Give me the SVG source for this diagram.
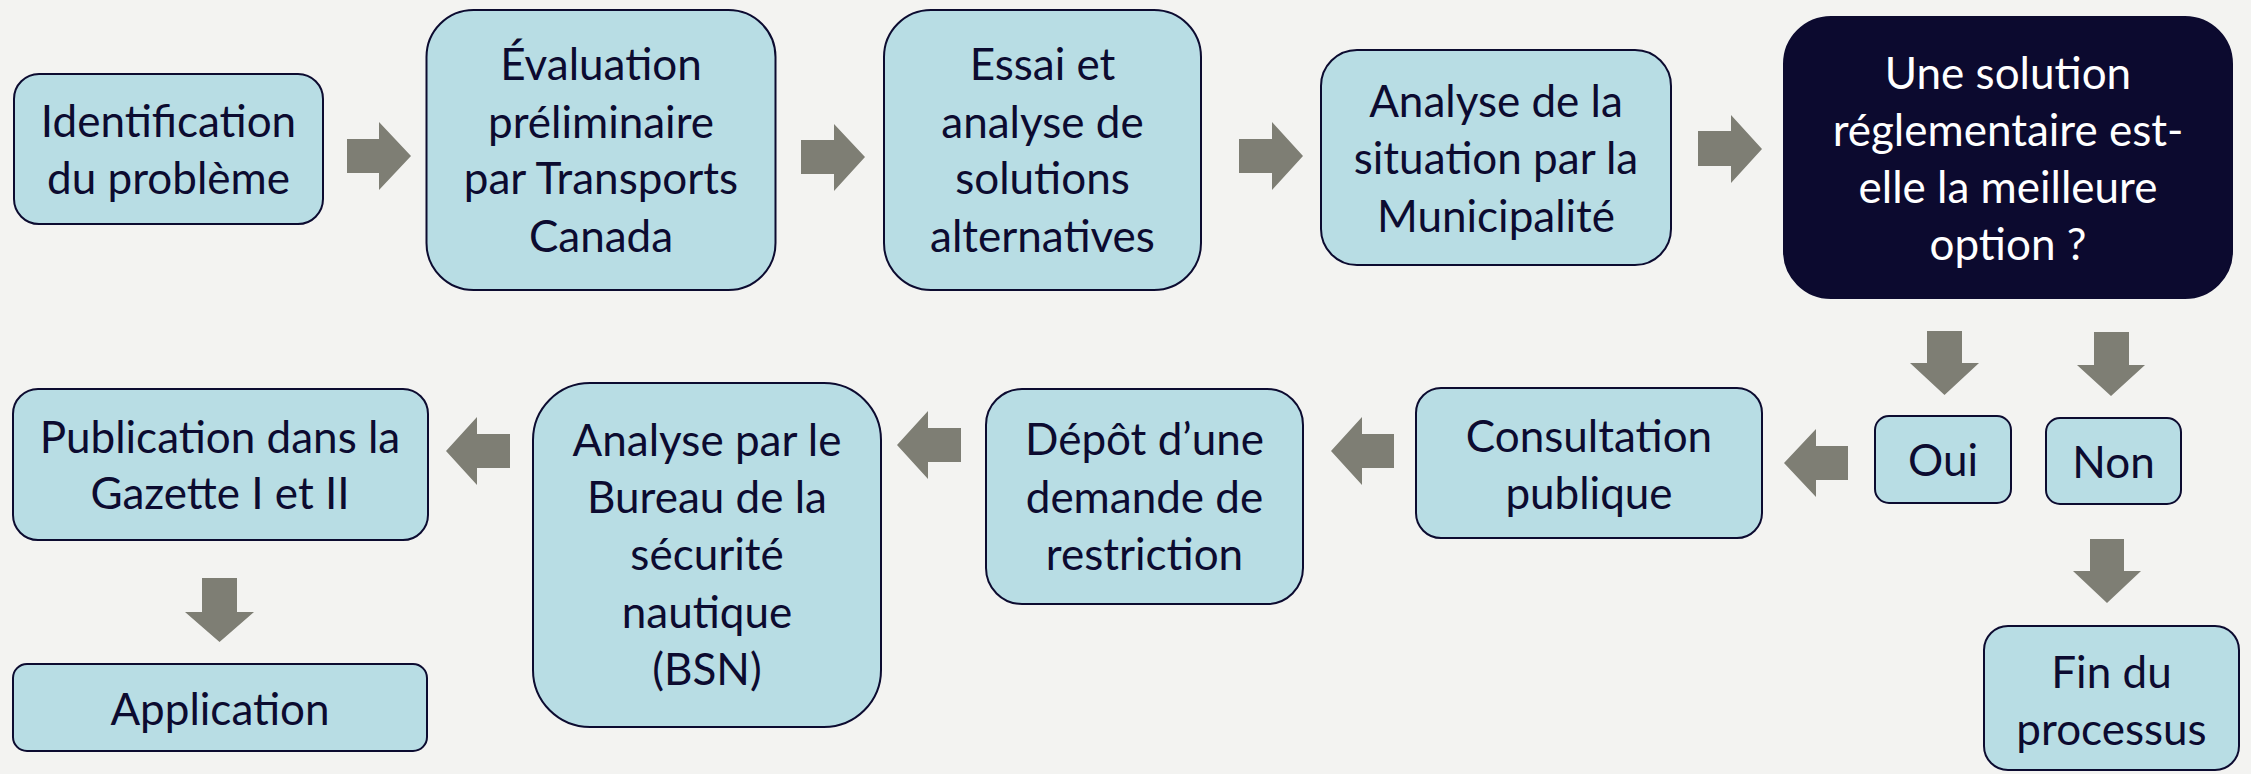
<svg xmlns="http://www.w3.org/2000/svg" width="2251" height="774" viewBox="0 0 2251 774">
<style>
.box{fill:#b8dde4;stroke:#0c0b30;stroke-width:2}
.dark{fill:#0c0a2f;stroke:#0c0a2f;stroke-width:2}
.t{font-family:Lato,"Open Sans","Liberation Sans",sans-serif;font-size:44px;fill:#0c0b30;text-anchor:middle}
.w{fill:#ffffff}
.arr{fill:#7e7e74}
</style>
<rect width="2251" height="774" fill="#f3f3f1"/>
<g id="connectors">
<polygon class="arr" points="347,139 379,139 379,122 411,156 379,190 379,173 347,173"/>
<polygon class="arr" points="801,140 834,140 834,124 865,157 834,191 834,174 801,174"/>
<polygon class="arr" points="1239,139 1272,139 1272,122 1303,156 1272,190 1272,173 1239,173"/>
<polygon class="arr" points="1698,131 1731,131 1731,115 1762,149 1731,183 1731,166 1698,166"/>
<polygon class="arr" points="510,434 477,434 477,417 446,451 477,485 477,468 510,468"/>
<polygon class="arr" points="961,428 928,428 928,411 897,445 928,479 928,462 961,462"/>
<polygon class="arr" points="1394,434 1362,434 1362,417 1331,451 1362,485 1362,468 1394,468"/>
<polygon class="arr" points="1848,446 1816,446 1816,429 1784,463 1816,497 1816,480 1848,480"/>
<polygon class="arr" points="1927,331 1962,331 1962,363 1979,363 1944.5,395 1910,363 1927,363"/>
<polygon class="arr" points="2094,332 2129,332 2129,365 2145,365 2111,396 2077,365 2094,365"/>
<polygon class="arr" points="2090,539 2124,539 2124,571 2141,571 2107,603 2073,571 2090,571"/>
<polygon class="arr" points="202,578 237,578 237,612 254,612 219.5,642 185,612 202,612"/>
</g>
<g id="n1"><rect class="box" x="14" y="74" width="309" height="150" rx="25"/>
<text class="t" x="168.5"><tspan x="168.5" y="137">Identification</tspan><tspan x="168.5" y="194">du problème</tspan></text></g>
<g id="n2"><rect class="box" x="426.5" y="10" width="349" height="280" rx="47"/>
<text class="t"><tspan x="601" y="80">Évaluation</tspan><tspan x="601" y="138">préliminaire</tspan><tspan x="601" y="194">par Transports</tspan><tspan x="601" y="252">Canada</tspan></text></g>
<g id="n3"><rect class="box" x="884" y="10" width="317" height="280" rx="47"/>
<text class="t"><tspan x="1042.5" y="80">Essai et</tspan><tspan x="1042.5" y="138">analyse de</tspan><tspan x="1042.5" y="194">solutions</tspan><tspan x="1042.5" y="252">alternatives</tspan></text></g>
<g id="n4"><rect class="box" x="1321" y="50" width="350" height="215" rx="36"/>
<text class="t"><tspan x="1496" y="117">Analyse de la</tspan><tspan x="1496" y="174">situation par la</tspan><tspan x="1496" y="232">Municipalité</tspan></text></g>
<g id="n5"><rect class="dark" x="1784" y="17" width="448" height="281" rx="47"/>
<text class="t w"><tspan x="2008" y="89">Une solution</tspan><tspan x="2008" y="146">réglementaire est-</tspan><tspan x="2008" y="203">elle la meilleure</tspan><tspan x="2008" y="260">option ?</tspan></text></g>
<g id="oui"><rect class="box" x="1875" y="416" width="136" height="87" rx="14"/>
<text class="t" x="1943" y="476">Oui</text></g>
<g id="non"><rect class="box" x="2046" y="418" width="135" height="86" rx="14"/>
<text class="t" x="2113.5" y="478">Non</text></g>
<g id="fin"><rect class="box" x="1984" y="626" width="255" height="144" rx="24"/>
<text class="t"><tspan x="2111.5" y="688">Fin du</tspan><tspan x="2111.5" y="745">processus</tspan></text></g>
<g id="consult"><rect class="box" x="1416" y="388" width="346" height="150" rx="25"/>
<text class="t"><tspan x="1589" y="452">Consultation</tspan><tspan x="1589" y="509">publique</tspan></text></g>
<g id="depot"><rect class="box" x="986" y="389" width="317" height="215" rx="36"/>
<text class="t"><tspan x="1144.5" y="455">Dépôt d’une</tspan><tspan x="1144.5" y="513">demande de</tspan><tspan x="1144.5" y="570">restriction</tspan></text></g>
<g id="bsn"><rect class="box" x="533" y="383" width="348" height="344" rx="57"/>
<text class="t"><tspan x="707" y="456">Analyse par le</tspan><tspan x="707" y="513">Bureau de la</tspan><tspan x="707" y="570">sécurité</tspan><tspan x="707" y="628">nautique</tspan><tspan x="707" y="685">(BSN)</tspan></text></g>
<g id="pub"><rect class="box" x="13" y="389" width="415" height="151" rx="25"/>
<text class="t"><tspan x="220" y="453">Publication dans la</tspan><tspan x="220" y="509">Gazette I et II</tspan></text></g>
<g id="app"><rect class="box" x="13" y="664" width="414" height="87" rx="14"/>
<text class="t" x="220" y="725">Application</text></g>
</svg>
